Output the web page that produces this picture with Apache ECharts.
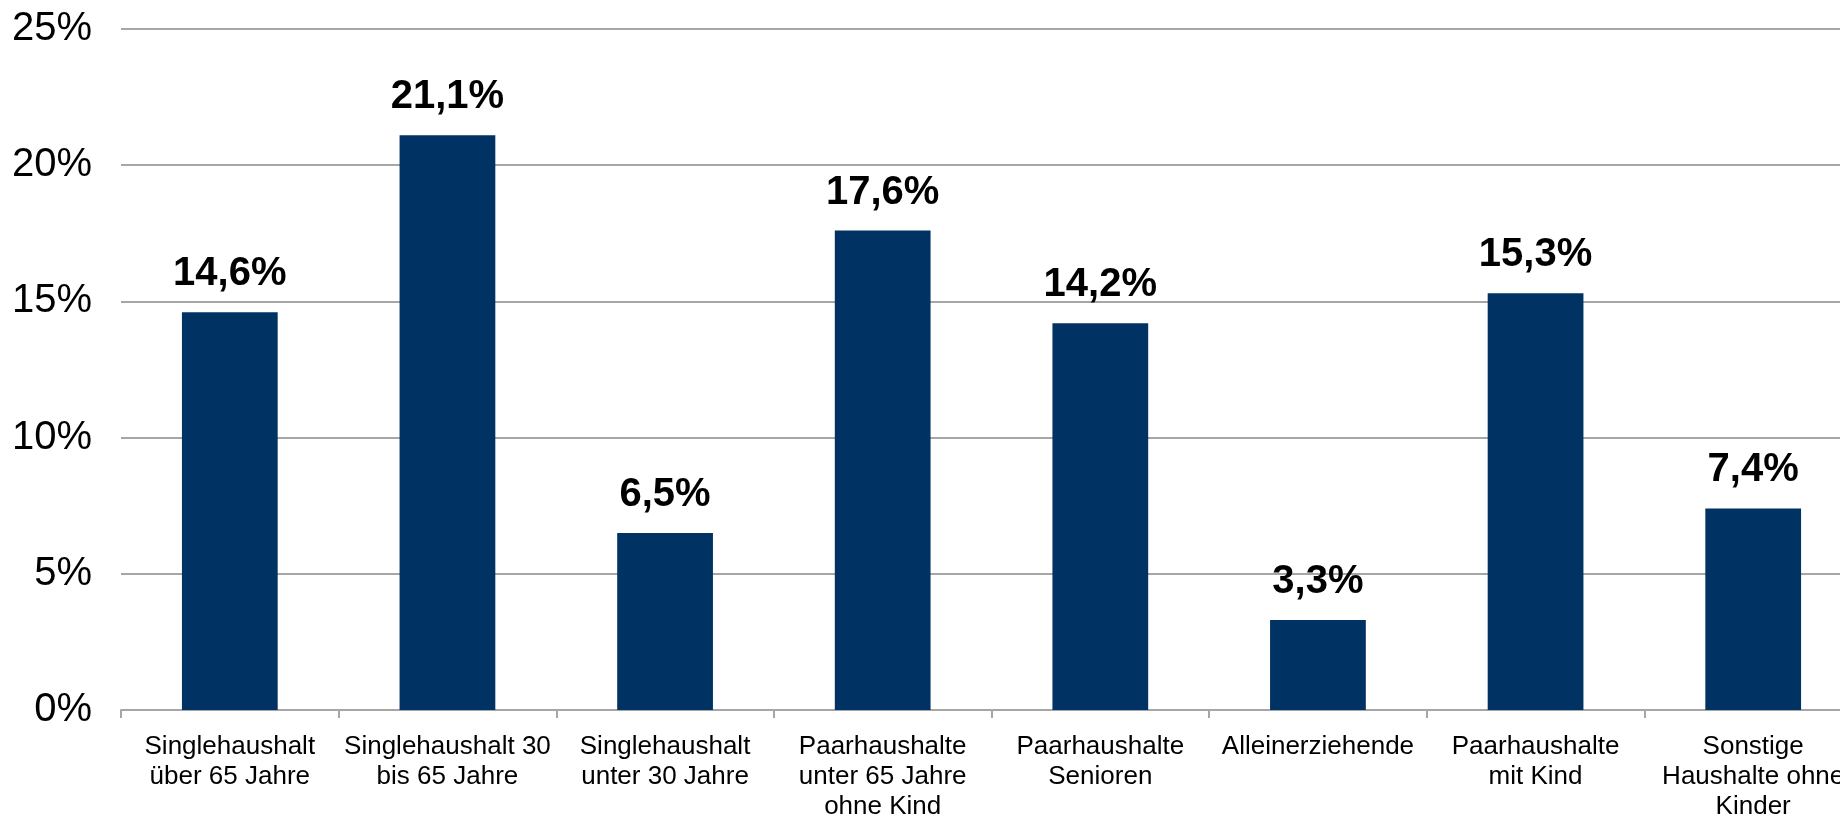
<!DOCTYPE html>
<html>
<head>
<meta charset="utf-8">
<script src="https://cdn.jsdelivr.net/npm/echarts@6/dist/echarts.min.js"></script>
<style>
  html, body { margin: 0; padding: 0; background: #fff; overflow: hidden; }
  #main { width: 1862px; height: 824px; }
</style>
</head>
<body>
<div id="main"></div>
<script>
// Haushaltstypen
var categories = [
  'Singlehaushalt\nüber 65 Jahre',
  'Singlehaushalt 30\nbis 65 Jahre',
  'Singlehaushalt\nunter 30 Jahre',
  'Paarhaushalte\nunter 65 Jahre\nohne Kind',
  'Paarhaushalte\nSenioren',
  'Alleinerziehende',
  'Paarhaushalte\nmit Kind',
  'Sonstige\nHaushalte ohne\nKinder'
];
var values = [14.6, 21.1, 6.5, 17.6, 14.2, 3.3, 15.3, 7.4];
var yTicks = [0, 5, 10, 15, 20, 25];

var chart = echarts.init(document.getElementById('main'));
var option = {
  animation: false,
  textStyle: { fontFamily: 'Liberation Sans, Arial, sans-serif' },
  grid: { left: 121, right: 0, top: 29, bottom: 114 },
  xAxis: {
    type: 'category',
    data: categories,
    axisLine: { lineStyle: { color: '#a6a6a6', width: 2 } },
    axisTick: { show: true, length: 8, lineStyle: { color: '#a6a6a6', width: 2 } },
    axisLabel: {
      interval: 0,
      color: '#000',
      fontSize: 26,
      lineHeight: 30,
      margin: 22
    }
  },
  yAxis: {
    type: 'value',
    min: yTicks[0],
    max: yTicks[yTicks.length - 1],
    interval: 5,
    axisLine: { show: false },
    axisTick: { show: false },
    splitLine: { lineStyle: { color: '#a6a6a6', width: 2 } },
    axisLabel: {
      color: '#000',
      fontSize: 40,
      margin: 29,
      formatter: function (v) { return v + '%'; }
    }
  },
  series: [{
    type: 'bar',
    data: values,
    barCategoryGap: '56%',
    itemStyle: { color: '#003263' },
    label: {
      show: true,
      position: 'top',
      distance: 18,
      color: '#000',
      fontSize: 40,
      fontWeight: 'bold',
      formatter: function (p) { return String(p.value).replace('.', ',') + '%'; }
    }
  }]
};
chart.setOption(option);
</script>
</body>
</html>
